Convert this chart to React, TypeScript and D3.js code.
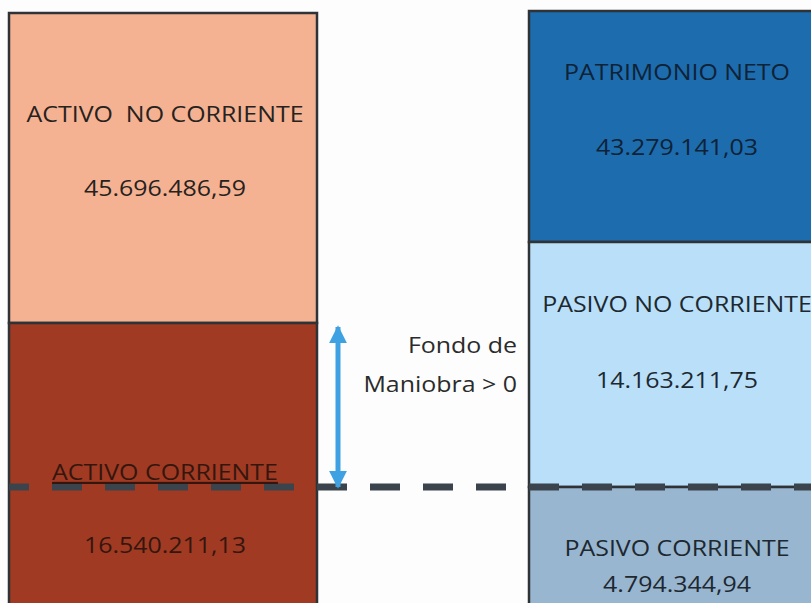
import React from "react";
import * as d3 from "d3";

// Balance sheet masses (EUR)
const leftLabels = ["ACTIVO  NO CORRIENTE", "ACTIVO CORRIENTE"];
const leftValues = [45696486.59, 16540211.13];
const rightLabels = ["PATRIMONIO NETO", "PASIVO NO CORRIENTE", "PASIVO CORRIENTE"];
const rightValues = [43279141.03, 14163211.75, 4794344.94];
const noteLines = ["Fondo de", "Maniobra > 0"];

const leftColors = ["#f5b292", "#a13a23"];
const rightColors = ["#1d6cae", "#b9e0f8", "#98b6cf"];
const leftTextColors = ["#262220", "#35160e"];
const rightTextColors = ["#0f2236", "#1d2830", "#1d2830"];

// where label / value baselines sit below each block's top (schematic layout)
const leftLabelDy = [109, 157];
const leftValueDy = [183, 230];
const rightLabelDy = [69, 70, 69];
const rightValueDy = [144, 146, 105];

const W = 811;
const H = 603;

const esLocale = d3.formatLocale({
  decimal: ",",
  thousands: ".",
  grouping: [3],
  currency: ["", " €"],
});
const fmt = esLocale.format(",.2f");

function cumulative(values: number[]) {
  const out = [0];
  values.forEach((v) => out.push(out[out.length - 1] + v));
  return out;
}

export default function App() {
  const leftCum = cumulative(leftValues);
  const rightCum = cumulative(rightValues);

  // schematic (not proportional) piecewise scales, as in the original slide
  const yLeft = d3.scaleLinear().domain(leftCum).range([13, 323, 615]);
  const yRight = d3.scaleLinear().domain(rightCum).range([11, 242, 487, 615]);

  const leftX = 9;
  const rightX = 529;
  const boxW = 308;
  const sx = 1.16; // scanned slide text is horizontally stretched

  const dashY = yRight(rightCum[2]);
  const arrowX = 338;
  const arrowTop = yLeft(leftCum[1]) + 4;
  const arrowBottom = dashY;

  const fontFamily = "'Open Sans', 'Noto Sans', sans-serif";

  const block = (
    x: number,
    y0: number,
    y1: number,
    fill: string,
    key: string
  ) => (
    <rect
      key={key}
      x={x}
      y={y0}
      width={boxW}
      height={y1 - y0}
      fill={fill}
      stroke="#2f3336"
      strokeWidth={2.5}
    />
  );

  const label = (
    cx: number,
    y: number,
    text: string,
    color: string,
    key: string,
    underline = false
  ) => (
    <g key={key} transform={`translate(${cx},${y}) scale(${sx},1)`}>
      <text
        textAnchor="middle"
        fontSize={21.5}
        fill={color}
        fontFamily={fontFamily}
        style={{
          whiteSpace: "pre",
          textDecoration: underline ? "underline" : undefined,
        }}
      >
        {text}
      </text>
    </g>
  );

  return (
    <svg
      width={W}
      height={H}
      style={{ position: "fixed", left: 0, top: 0, background: "#fdfdfd" }}
    >
      {leftValues.map((v, i) =>
        block(leftX, yLeft(leftCum[i]), yLeft(leftCum[i + 1]), leftColors[i], "l" + i)
      )}
      {rightValues.map((v, i) =>
        block(rightX, yRight(rightCum[i]), yRight(rightCum[i + 1]), rightColors[i], "r" + i)
      )}

      {/* dashed working-capital reference line */}
      <line
        x1={leftX}
        x2={W}
        y1={dashY}
        y2={dashY}
        stroke="#3b444c"
        strokeWidth={7}
        strokeDasharray="30,23"
        strokeDashoffset={10}
      />

      {/* double arrow */}
      <defs>
        <marker
          id="ah"
          viewBox="0 0 10 10"
          refX={9}
          refY={5}
          markerWidth={3.6}
          markerHeight={3.6}
          orient="auto-start-reverse"
          markerUnits="strokeWidth"
        >
          <path d="M0,0 L10,5 L0,10 Z" fill="#3ea1e2" />
        </marker>
      </defs>
      <line
        x1={arrowX}
        x2={arrowX}
        y1={arrowTop}
        y2={arrowBottom}
        stroke="#3ea1e2"
        strokeWidth={5}
        markerStart="url(#ah)"
        markerEnd="url(#ah)"
      />

      {noteLines.map((t, i) => (
        <g key={"n" + i} transform={`translate(517,${353 + i * 39}) scale(${sx},1)`}>
          <text textAnchor="end" fontSize={21.5} fill="#2b2b2b" fontFamily={fontFamily}>
            {t}
          </text>
        </g>
      ))}

      {leftValues.map((v, i) => {
        const top = yLeft(leftCum[i]);
        const cx = leftX + boxW / 2 + 2;
        return (
          <g key={"lt" + i}>
            {label(cx, top + leftLabelDy[i], leftLabels[i], leftTextColors[i], "ll" + i, i === 1)}
            {label(cx, top + leftValueDy[i], fmt(v), leftTextColors[i], "lv" + i)}
          </g>
        );
      })}
      {rightValues.map((v, i) => {
        const top = yRight(rightCum[i]);
        const cx = rightX + boxW / 2 - 6;
        return (
          <g key={"rt" + i}>
            {label(cx, top + rightLabelDy[i], rightLabels[i], rightTextColors[i], "rl" + i)}
            {label(cx, top + rightValueDy[i], fmt(v), rightTextColors[i], "rv" + i)}
          </g>
        );
      })}
    </svg>
  );
}
